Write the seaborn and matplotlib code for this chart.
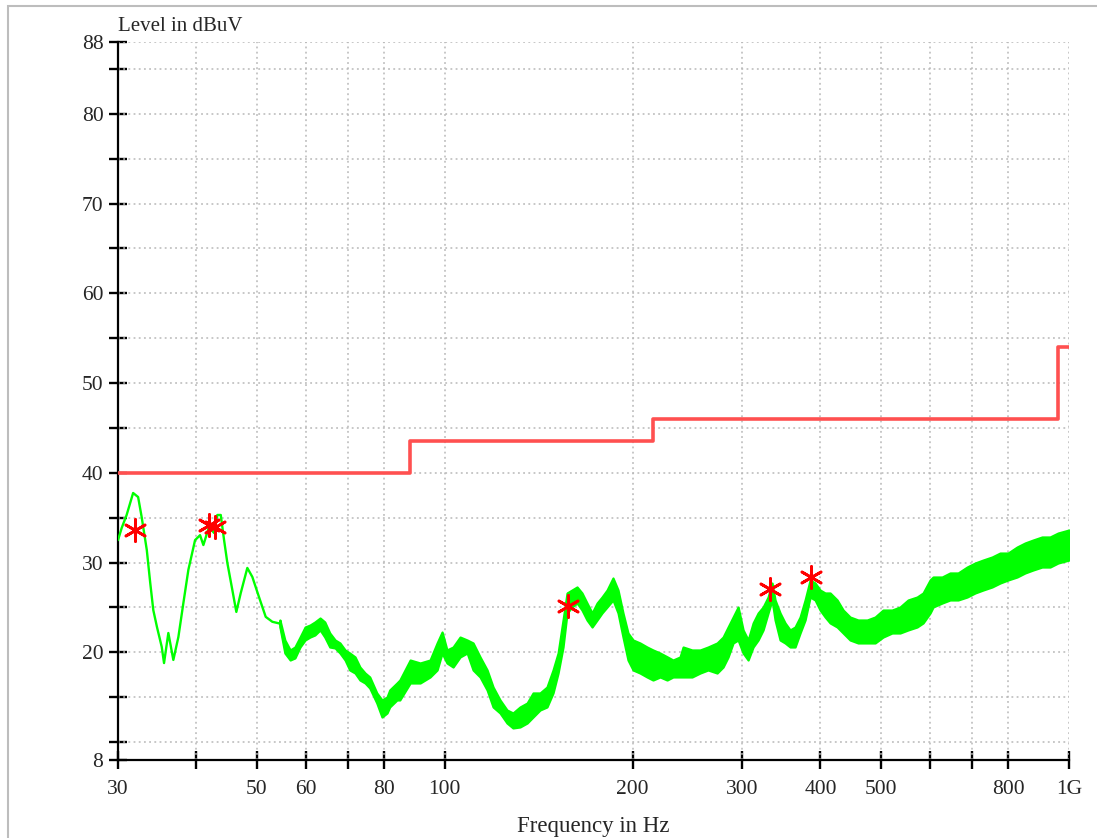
import matplotlib
matplotlib.use("Agg")
import pandas as pd
import matplotlib.pyplot as plt
import seaborn as sns
from matplotlib.patches import Rectangle
from matplotlib.ticker import FixedLocator, NullLocator

# low end of the scan (MHz, dBuV): a clean thin trace
line_freq = [30.0, 30.41, 30.97, 31.72, 32.31, 32.73, 33.36, 33.79, 34.17, 34.64,
             35.25, 35.55, 36.12, 36.79, 37.48, 38.18, 38.89, 39.86, 40.60, 41.10,
             41.95, 42.75, 43.27, 43.82, 44.36, 44.90, 45.73, 46.41, 47.17, 48.33,
             49.23, 50.46, 51.72, 53.0, 54.5]
line_level = [32.5, 33.85, 35.3, 37.75, 37.3, 35.1, 31.4, 27.7, 24.7, 22.8,
              20.6, 18.8, 22.15, 19.15, 21.7, 25.5, 29.2, 32.5, 33.05, 31.95,
              33.95, 33.3, 35.3, 35.3, 32.5, 29.95, 26.95, 24.5, 26.6, 29.4,
              28.4, 26.15, 23.95, 23.4, 23.2]

# rest of the scan: noisy band, upper and lower edge (MHz, dBuV)
band_freq = [54.5, 55.5, 56.6, 57.6, 58.7, 59.8, 60.9, 62.0, 63.2, 64.3,
             65.5, 66.8, 68.0, 69.3, 70.5, 71.9, 73.2, 74.6, 75.9, 77.9,
             79.4, 80.9, 81.7, 83.9, 84.8, 88.1, 91.4, 94.8, 97.3, 99.1,
             100.9, 103.2, 105.9, 108.7, 111.1, 114.0, 117.0, 119.6, 122.7, 125.9,
             128.7, 132.1, 135.6, 138.6, 142.2, 145.9, 149.2, 152.0, 154.8, 157.1,
             160.0, 163.0, 166.0, 169.1, 172.3, 175.5, 178.7, 182.1, 186.1, 189.6,
             193.1, 196.7, 200.4, 205.6, 211.0, 215.7, 221.4, 227.2, 232.2, 238.3,
             241.0, 249.1, 256.6, 264.2, 273.2, 279.3, 284.5, 289.8, 295.2, 300.7,
             306.3, 312.0, 317.8, 323.7, 329.7, 334.6, 338.3, 344.6, 351.0, 357.6,
             364.2, 371.0, 377.9, 385.0, 392.1, 399.4, 406.9, 414.4, 425.3, 434.8,
             446.1, 459.5, 475.0, 489.2, 503.8, 520.8, 536.4, 552.5, 571.1, 583.9,
             599.2, 605.9, 626.3, 645.0, 664.4, 686.8, 707.3, 728.5, 753.1, 775.6,
             798.8, 825.7, 850.4, 875.9, 905.4, 932.5, 960.5, 1000.0]
band_high = [23.60, 21.37, 20.26, 20.59, 21.70, 22.82, 23.04, 23.38, 23.82, 23.38,
             22.15, 21.37, 21.04, 20.26, 19.92, 19.48, 18.36, 17.69, 17.25, 15.47,
             14.69, 15.02, 15.80, 16.58, 16.91, 19.14, 18.81, 19.14, 21.04, 22.26,
             20.26, 20.59, 21.70, 21.37, 21.04, 19.48, 18.03, 16.13, 14.69, 13.57,
             13.24, 13.91, 14.35, 15.47, 15.47, 16.13, 18.03, 19.92, 23.60, 26.61,
             26.94, 27.28, 26.61, 25.49, 24.38, 25.49, 26.16, 26.94, 28.28, 26.94,
             24.38, 22.15, 21.37, 21.04, 20.59, 20.26, 19.92, 19.50, 19.14, 19.48,
             20.59, 20.26, 20.26, 20.59, 21.04, 21.70, 22.82, 23.93, 25.05, 22.49,
             21.37, 23.27, 24.38, 25.05, 26.16, 27.72, 25.83, 24.38, 23.27, 22.49,
             22.82, 23.93, 25.83, 28.06, 27.72, 26.94, 26.61, 26.61, 25.83, 24.71,
             23.93, 23.60, 23.60, 23.93, 24.71, 24.71, 25.05, 25.83, 26.16, 26.61,
             28.06, 28.39, 28.39, 28.84, 28.84, 29.50, 29.95, 30.28, 30.62, 31.06,
             31.06, 31.73, 32.18, 32.51, 32.85, 32.85, 33.29, 33.63]
band_low = [22.82, 19.92, 19.14, 19.37, 20.59, 21.37, 21.70, 21.93, 22.49, 21.70,
            20.59, 20.48, 19.92, 19.14, 18.03, 17.69, 16.91, 16.58, 16.02, 14.35,
            12.79, 13.24, 13.91, 14.69, 14.69, 16.58, 16.58, 17.25, 18.03, 19.92,
            18.81, 18.36, 19.48, 19.92, 18.03, 17.25, 15.80, 13.91, 13.24, 12.12,
            11.57, 11.68, 12.12, 12.79, 13.57, 13.91, 15.47, 17.69, 20.59, 24.38,
            25.05, 25.49, 24.71, 23.60, 22.82, 23.60, 24.38, 25.05, 25.83, 24.38,
            21.70, 19.14, 18.03, 17.69, 17.25, 16.91, 17.25, 16.91, 17.25, 17.25,
            17.25, 17.25, 17.69, 18.03, 17.69, 18.36, 19.48, 21.04, 21.37, 19.92,
            19.14, 20.59, 21.37, 22.49, 24.38, 25.83, 23.60, 21.37, 21.04, 20.59,
            20.59, 22.15, 23.60, 26.16, 25.83, 24.71, 23.93, 23.27, 22.82, 22.15,
            21.37, 21.04, 21.04, 21.04, 21.70, 22.15, 22.15, 22.49, 22.82, 23.27,
            24.38, 25.05, 25.49, 25.83, 25.83, 26.16, 26.61, 26.94, 27.28, 27.72,
            28.06, 28.39, 28.84, 29.17, 29.50, 29.50, 29.95, 30.28]

# limit line (steps)
limit_freq = [30, 88, 216, 960, 1000]
limit_level = [40, 43.5, 46, 54, 54]

# peak markers
peak_freq = [31.9, 41.9, 42.9, 157.7, 332.0, 386.5]
peak_level = [33.6, 34.2, 34.0, 25.2, 27.05, 28.4]

# axis ticks
x_ticks = [30, 40, 50, 60, 70, 80, 100, 200, 300, 400, 500, 600, 700, 800, 1000]
x_labels = ['30', '', '50', '60', '', '80', '100', '200', '300', '400', '500', '', '', '800', '1G']
y_major = [8, 20, 30, 40, 50, 60, 70, 80, 88]
y_minor = [10, 15, 25, 35, 45, 55, 65, 75, 85]
y_grid = [10, 15, 20, 25, 30, 35, 40, 45, 50, 55, 60, 65, 70, 75, 80, 85, 88]

sns.set_style("white")
plt.rcParams['font.family'] = ['Liberation Serif', 'DejaVu Serif']

thin = pd.DataFrame({'freq': line_freq, 'level': line_level})
band = pd.DataFrame({'freq': band_freq, 'high': band_high, 'low': band_low})
band['mid'] = (band['high'] + band['low']) / 2
lim = pd.DataFrame({'freq': limit_freq, 'level': limit_level})
pk = pd.DataFrame({'freq': peak_freq, 'level': peak_level})

fig = plt.figure(figsize=(10.97, 8.38), dpi=100)
ax = fig.add_axes([118 / 1097, 1 - 760 / 838, (1069 - 118) / 1097, (760 - 42) / 838])
ax.set_xscale('log')

green = '#00ff00'
ax.fill_between(band['freq'], band['low'], band['high'], color=green,
                edgecolor=green, linewidth=1.6, zorder=3)
sns.lineplot(data=band, x='freq', y='mid', ax=ax, color=green, linewidth=1.6,
             sort=False, zorder=3)
sns.lineplot(data=thin, x='freq', y='level', ax=ax, color=green, linewidth=1.7,
             sort=False, zorder=3)
sns.lineplot(data=lim, x='freq', y='level', ax=ax, color='#ff5050', linewidth=2.6,
             drawstyle='steps-post', sort=False, zorder=4)
sns.scatterplot(data=pk, x='freq', y='level', ax=ax, marker=(6, 2, 0), s=250,
                color='#ff0000', linewidth=2.0, zorder=5)

ax.set_xlim(30, 1000)
ax.set_ylim(8, 88)
ax.xaxis.set_major_locator(FixedLocator(x_ticks))
ax.xaxis.set_minor_locator(NullLocator())
ax.set_xticklabels(x_labels)
ax.yaxis.set_major_locator(FixedLocator(y_major))
ax.yaxis.set_minor_locator(FixedLocator(y_minor))

# dotted grid
for y in y_grid:
    ax.axhline(y, color='#b8b8b8', linewidth=1.1, linestyle=(0, (1.2, 2.2)), zorder=1)
for x in x_ticks[1:]:
    ax.axvline(x, color='#b8b8b8', linewidth=1.1, linestyle=(0, (1.2, 2.2)), zorder=1)

for side in ['top', 'right']:
    ax.spines[side].set_visible(False)
for side in ['left', 'bottom']:
    ax.spines[side].set_color('black')
    ax.spines[side].set_linewidth(1.6)
ax.tick_params(axis='both', which='both', bottom=True, left=True, direction='inout',
               length=13, width=1.7, color='black', labelsize=15.5, pad=4)
ax.tick_params(axis='x', pad=8)
ax.set_xlabel('')
ax.set_ylabel('')

fig.text(118 / 1097, 1 - 31 / 838, 'Level in dBuV', fontsize=15, ha='left', va='baseline')
fig.text((118 + 1069) / 2 / 1097, 1 - 832 / 838, 'Frequency in Hz', fontsize=16.5,
         ha='center', va='baseline')

fig.patches.append(Rectangle((8 / 1097, -0.05), 1.0, 1.05 - 6 / 838, transform=fig.transFigure,
                             fill=False, edgecolor='#bdbdbd', linewidth=1.5))

fig.savefig('out.png', dpi=100)
